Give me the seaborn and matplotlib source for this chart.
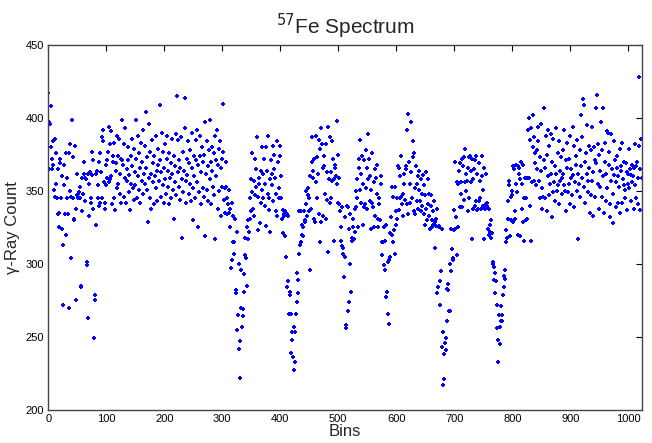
import numpy as np
import pandas as pd
import matplotlib
matplotlib.use("Agg")
import matplotlib.pyplot as plt
import seaborn as sns

# gamma-ray counts per bin, in blocks of 128 bins
counts_a = [
    417, 365, 397, 396, 408, 380, 365, 372, 368, 384, 351, 346, 386, 376, 355, 345,
    334, 365, 335, 325, 369, 372, 345, 360, 324, 313, 272, 368, 354, 334, 320, 376,
    359, 345, 334, 376, 270, 350, 382, 304, 346, 399, 373, 345, 331, 330, 381, 338,
    275, 347, 362, 348, 345, 349, 345, 353, 284, 285, 359, 336, 348, 362, 370, 359,
    343, 358, 301, 299, 263, 362, 333, 355, 363, 345, 342, 361, 377, 338, 371, 249,
    275, 279, 362, 327, 364, 354, 345, 340, 370, 376, 342, 363, 387, 345, 392, 384,
    356, 338, 342, 354, 368, 371, 359, 377, 356, 394, 382, 358, 391, 360, 341, 370,
    374, 383, 345, 337, 364, 369, 388, 352, 355, 374, 386, 362, 348, 342, 372, 399,
]
counts_b = [
    371, 368, 346, 382, 359, 393, 342, 365, 357, 380, 371, 349, 361, 337, 374, 355,
    386, 367, 352, 344, 379, 363, 354, 399, 372, 345, 360, 388, 351, 376, 366, 342,
    383, 357, 370, 348, 392, 362, 355, 381, 404, 366, 351, 373, 329, 359, 396, 345,
    377, 362, 338, 385, 356, 369, 341, 374, 360, 388, 352, 364, 343, 379, 368, 357,
    409, 371, 346, 363, 390, 354, 377, 342, 366, 382, 358, 348, 372, 388, 353, 364,
    341, 376, 359, 369, 345, 386, 362, 351, 374, 331, 367, 356, 389, 347, 415, 363,
    385, 353, 371, 344, 366, 387, 358, 318, 377, 349, 364, 393, 414, 357, 342, 372,
    361, 384, 348, 369, 355, 378, 343, 366, 390, 352, 330, 374, 360, 345, 385, 371,
]
counts_c = [
    392, 356, 368, 325, 349, 388, 374, 341, 363, 380, 352, 370, 346, 375, 397, 319,
    362, 384, 351, 367, 343, 378, 358, 399, 370, 341, 380, 364, 353, 376, 347, 388,
    317, 371, 360, 392, 338, 368, 379, 350, 384, 333, 366, 372, 353, 410, 377, 344,
    352, 335, 370, 353, 334, 345, 341, 351, 335, 338, 325, 297, 303, 342, 315, 333,
    315, 307, 331, 282, 280, 322, 255, 265, 300, 242, 222, 247, 296, 270, 257, 264,
    269, 293, 281, 318, 306, 304, 325, 285, 330, 317, 322, 345, 331, 336, 358, 349,
    376, 338, 333, 357, 347, 372, 365, 353, 387, 323, 346, 355, 359, 328, 342, 364,
    380, 351, 345, 362, 372, 340, 355, 380, 326, 364, 348, 388, 337, 345, 322, 358,
]
counts_d = [
    371, 362, 354, 343, 381, 375, 365, 359, 336, 348, 384, 333, 370, 352, 345, 381,
    374, 360, 345, 331, 337, 321, 334, 333, 336, 319, 305, 334, 284, 333, 288, 266,
    279, 281, 266, 239, 248, 253, 236, 227, 257, 233, 253, 266, 294, 274, 289, 280,
    307, 336, 313, 315, 336, 320, 327, 325, 319, 336, 330, 329, 350, 341, 333, 347,
    352, 345, 336, 360, 296, 338, 370, 387, 364, 359, 331, 372, 329, 388, 356, 345,
    373, 362, 334, 385, 315, 379, 393, 329, 382, 366, 333, 374, 367, 348, 331, 382,
    363, 344, 308, 394, 358, 342, 387, 363, 345, 384, 357, 372, 316, 358, 366, 368,
    360, 398, 355, 375, 342, 359, 341, 336, 316, 325, 312, 339, 307, 311, 291, 332,
]
counts_e = [
    305, 256, 258, 340, 268, 339, 274, 324, 300, 334, 281, 316, 318, 331, 325, 317,
    338, 322, 339, 350, 345, 358, 325, 372, 366, 351, 385, 342, 362, 374, 327, 355,
    339, 371, 341, 378, 352, 366, 338, 389, 358, 372, 343, 360, 324, 351, 342, 376,
    339, 356, 325, 365, 333, 359, 348, 368, 325, 331, 341, 345, 330, 360, 355, 315,
    306, 315, 299, 325, 296, 316, 277, 327, 281, 266, 301, 259, 303, 321, 305, 332,
    320, 353, 315, 346, 323, 353, 307, 336, 327, 345, 331, 367, 337, 366, 345, 360,
    346, 374, 341, 333, 348, 362, 355, 344, 367, 365, 392, 341, 334, 403, 370, 355,
    342, 397, 363, 345, 384, 373, 336, 376, 352, 334, 367, 355, 343, 360, 338, 364,
]
counts_f = [
    351, 343, 336, 358, 340, 348, 361, 334, 354, 327, 347, 338, 363, 330, 341, 358,
    333, 348, 324, 340, 347, 325, 330, 336, 327, 343, 329, 311, 326, 331, 280, 338,
    284, 325, 326, 272, 288, 295, 324, 243, 253, 217, 238, 221, 246, 241, 249, 261,
    283, 286, 282, 268, 300, 268, 295, 324, 310, 303, 304, 337, 323, 370, 324, 332,
    356, 306, 325, 355, 364, 339, 369, 348, 356, 372, 339, 367, 373, 344, 356, 379,
    362, 350, 357, 366, 336, 373, 345, 374, 364, 356, 317, 372, 358, 338, 365, 340,
    371, 343, 374, 362, 337, 338, 369, 343, 357, 345, 338, 360, 374, 340, 351, 317,
    366, 338, 341, 362, 342, 340, 324, 338, 320, 327, 322, 330, 318, 321, 300, 301,
]
counts_g = [
    298, 289, 294, 280, 288, 256, 272, 233, 248, 265, 257, 245, 261, 271, 265, 261,
    279, 292, 284, 296, 290, 315, 323, 318, 331, 343, 357, 354, 319, 346, 330, 350,
    347, 367, 329, 365, 336, 331, 355, 368, 349, 367, 320, 366, 362, 319, 358, 370,
    338, 355, 329, 368, 345, 316, 359, 330, 345, 331, 359, 392, 359, 400, 385, 340,
    393, 316, 356, 402, 380, 357, 387, 369, 376, 354, 378, 365, 384, 394, 357, 345,
    373, 396, 364, 352, 338, 346, 371, 407, 345, 366, 388, 375, 336, 360, 392, 347,
    381, 355, 389, 362, 370, 332, 349, 386, 356, 367, 343, 393, 362, 350, 376, 354,
    384, 341, 364, 357, 373, 348, 359, 362, 378, 354, 392, 350, 371, 336, 366, 383,
]
counts_h = [
    349, 372, 355, 388, 341, 365, 359, 347, 394, 361, 381, 339, 356, 368, 374, 350,
    385, 362, 317, 355, 378, 346, 367, 402, 359, 387, 413, 409, 353, 342, 370, 376,
    362, 395, 349, 357, 381, 366, 335, 347, 378, 394, 357, 363, 333, 380, 346, 371,
    407, 369, 416, 355, 382, 338, 375, 364, 353, 397, 346, 378, 407, 360, 335, 370,
    383, 343, 362, 391, 352, 390, 377, 368, 341, 332, 357, 389, 365, 328, 348, 384,
    361, 371, 339, 356, 366, 374, 342, 360, 353, 379, 335, 367, 364, 342, 383, 358,
    354, 370, 351, 345, 369, 363, 337, 362, 355, 379, 352, 365, 361, 343, 368, 356,
    360, 338, 366, 382, 354, 367, 345, 370, 359, 341, 428, 381, 365, 337, 386, 359,
]

counts = counts_a + counts_b + counts_c + counts_d + counts_e + counts_f + counts_g + counts_h
bins = np.arange(len(counts))
df = pd.DataFrame({"Bins": bins, "Count": counts})

x_ticks = [0, 100, 200, 300, 400, 500, 600, 700, 800, 900, 1000]
y_ticks = [200, 250, 300, 350, 400, 450]

sns.set_style("white")
plt.rcParams["font.family"] = ["Liberation Sans", "DejaVu Sans"]

fig = plt.figure(figsize=(6.52, 4.43), dpi=100)
ax = fig.add_axes([0.074, 0.075, 0.911, 0.823])

sns.scatterplot(data=df, x="Bins", y="Count", ax=ax, marker="P", s=6,
                color="#0000ff", linewidth=0, legend=False)

ax.set_xlim(0, 1024)
ax.set_ylim(200, 450)
ax.set_xticks(x_ticks)
ax.set_yticks(y_ticks)
ax.tick_params(direction="in", length=4, width=0.8, labelsize=8,
               top=True, right=True, colors="black", pad=3)
for s in ax.spines.values():
    s.set_color("#444444")
    s.set_linewidth(1.0)

ax.set_xlabel("Bins", fontsize=12, labelpad=0)
ax.set_ylabel("\u03b3-Ray Count", fontsize=12, labelpad=4)
ax.set_title("$^{57}$Fe Spectrum", fontsize=15, pad=8)

fig.savefig("out.png", dpi=100)
